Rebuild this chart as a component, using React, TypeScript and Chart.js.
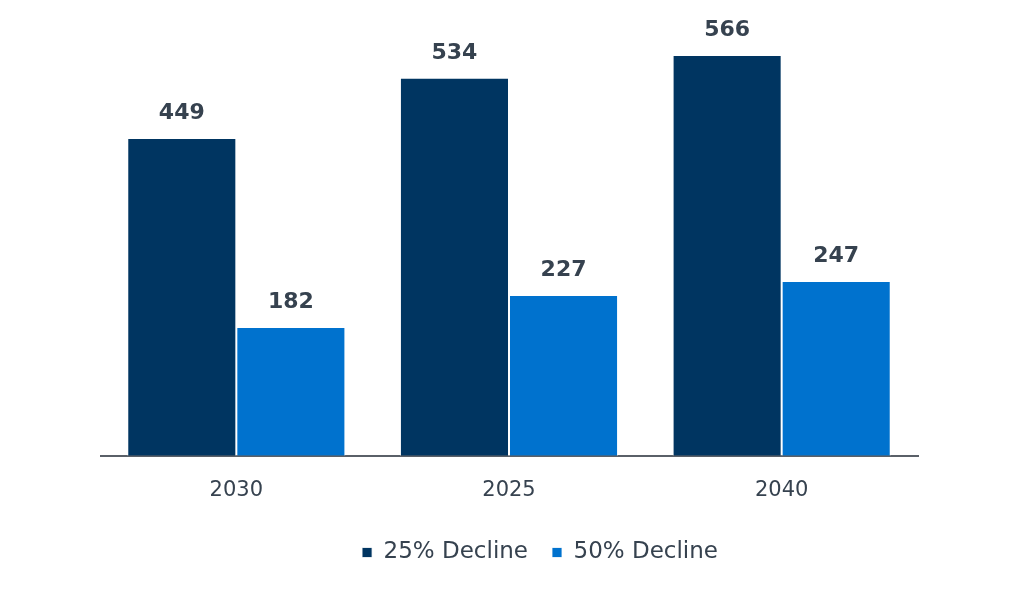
import { useEffect, useRef } from "react";
import { Chart, registerables } from "chart.js";

Chart.register(...registerables);

const years = ["2030", "2025", "2040"];
const decline25 = [449, 534, 566];
const decline50 = [182, 227, 247];
const seriesNames = ["25% Decline", "50% Decline"];

const textColor = "#36424f";

// draws the value above each bar
const valueLabels = {
  id: "valueLabels",
  afterDatasetsDraw(chart: Chart) {
    const { ctx } = chart;
    ctx.save();
    ctx.font = "bold 22px 'DejaVu Sans'";
    ctx.fillStyle = textColor;
    ctx.textAlign = "center";
    ctx.textBaseline = "alphabetic";
    chart.data.datasets.forEach((ds, i) => {
      const meta = chart.getDatasetMeta(i);
      meta.data.forEach((bar: any, j) => {
        ctx.fillText(String(ds.data[j]), bar.x, bar.y - 19);
      });
    });
    ctx.restore();
  },
};

export default function App() {
  const chartRef = useRef<HTMLCanvasElement>(null);
  const chartInstance = useRef<Chart | null>(null);

  useEffect(() => {
    if (!chartRef.current) return;
    if (chartInstance.current) {
      chartInstance.current.destroy();
    }

    chartInstance.current = new Chart(chartRef.current, {
      type: "bar",
      data: {
        labels: years,
        datasets: [
          {
            label: seriesNames[0],
            data: decline25,
            backgroundColor: "#003561",
            borderColor: "rgba(255,255,255,0.8)",
            borderWidth: 1,
          },
          {
            label: seriesNames[1],
            data: decline50,
            backgroundColor: "#0072ce",
            borderColor: "rgba(255,255,255,0.8)",
            borderWidth: 1,
          },
        ],
      },
      options: {
        responsive: true,
        maintainAspectRatio: false,
        animation: false,
        layout: {
          padding: { top: 23, right: 0, bottom: 17, left: 0 },
        },
        datasets: {
          bar: {
            categoryPercentage: 0.8,
            barPercentage: 1,
          },
        },
        scales: {
          x: {
            grid: { display: false },
            border: { display: true, color: "#5a6068", width: 2 },
            ticks: {
              color: textColor,
              padding: 14,
              font: { family: "'DejaVu Sans'", size: 21 },
            },
          },
          y: {
            display: false,
            min: 0,
            max: 600,
          },
          // empty right-hand space so the legend sits off-centre like the original
          spacer: {
            position: "right",
            grid: { display: false },
            border: { display: false },
            ticks: { display: false },
            afterFit: (scale: any) => {
              scale.width = 62;
            },
          },
        },
        plugins: {
          tooltip: { enabled: false },
          legend: {
            position: "bottom",
            labels: {
              boxWidth: 10,
              boxHeight: 10,
              padding: 24,
              color: textColor,
              font: { family: "'DejaVu Sans'", size: 23 },
            },
          },
        },
      },
      plugins: [valueLabels],
    });

    return () => {
      if (chartInstance.current) {
        chartInstance.current.destroy();
        chartInstance.current = null;
      }
    };
  }, []);

  return (
    <div style={{ marginLeft: 92, width: 880, height: 583, position: "relative" }}>
      <canvas ref={chartRef} />
    </div>
  );
}
